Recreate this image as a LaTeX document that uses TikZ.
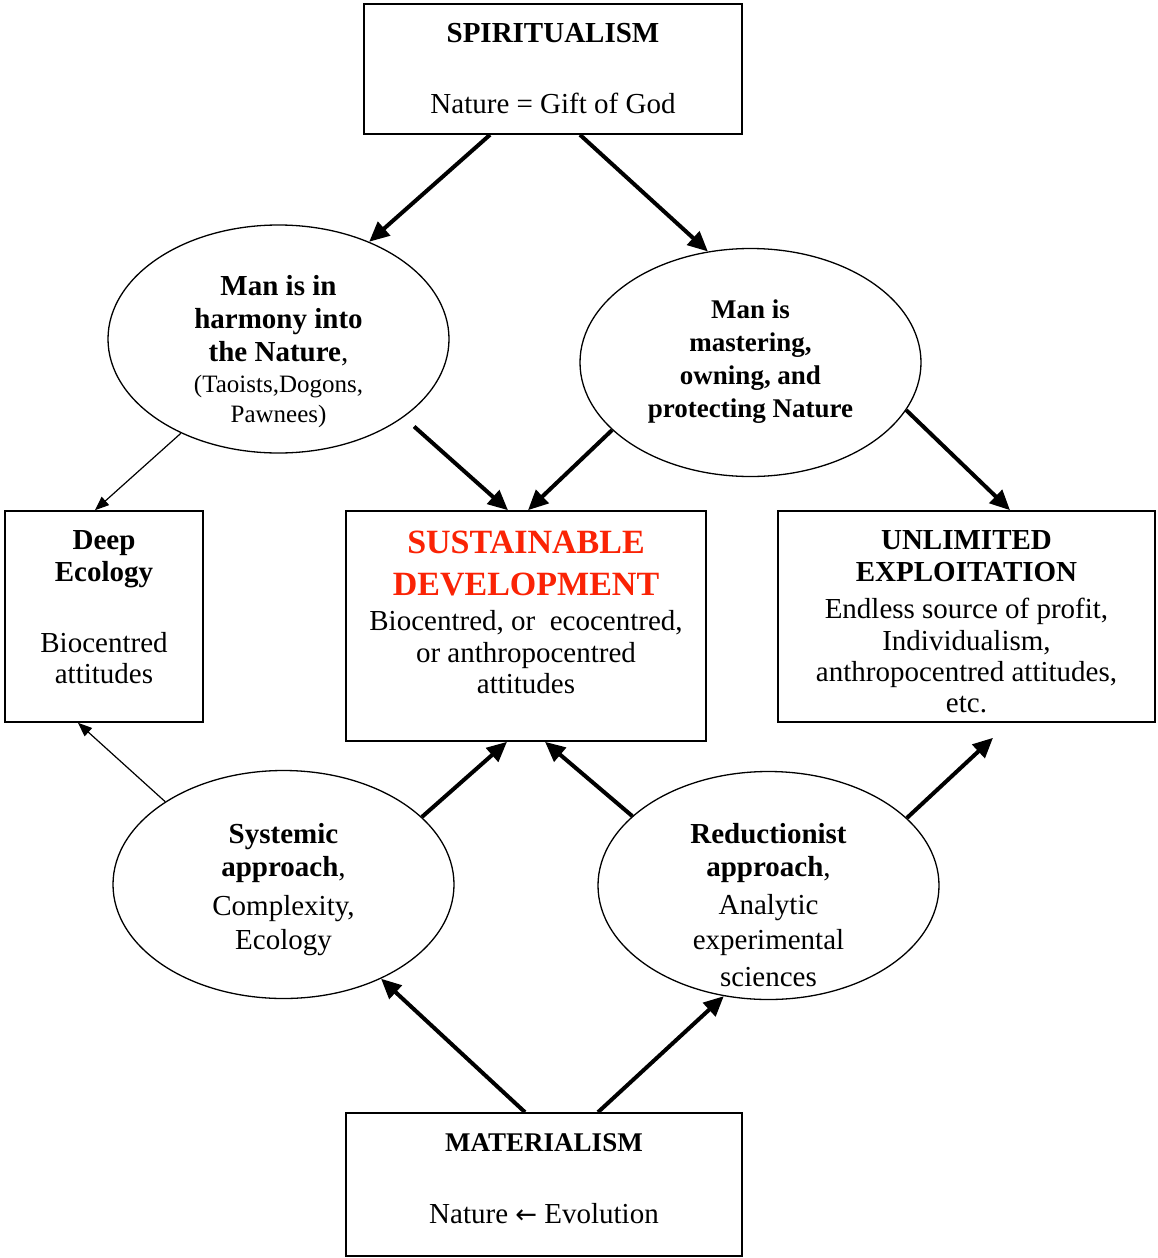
\documentclass[tikz,border=0pt]{standalone}
\usepackage{fontspec}
\setmainfont{Liberation Serif}
\newfontfamily\arrowfont{DejaVu Sans}
\usetikzlibrary{shapes.geometric,arrows.meta,positioning}
\definecolor{sdred}{RGB}{250,35,5}
\begin{document}
\begin{tikzpicture}[x=1pt,y=-1pt,
    box/.style={draw, line width=1.6pt, inner sep=0pt},
    oval/.style={draw, ellipse, line width=1.3pt, inner sep=0pt,
      minimum width=341pt, minimum height=228pt},
    txt/.style={align=center, inner sep=0pt, font=\fontsize{29}{33}\selectfont},
    big/.style={line width=4pt, -{Triangle[length=20pt,width=18pt]}},
    small/.style={line width=1.2pt, -{Triangle[length=14pt,width=11pt]}}]
  \useasboundingbox (0,0) rectangle (1157,1258);

  % shapes
  \node[box, minimum width=378pt, minimum height=130pt] (spirit) at (553,69) {};
  \node[oval] (harm) at (278.5,339) {};
  \node[oval] (mast) at (750.5,362.5) {};
  \node[box, minimum width=198pt, minimum height=211pt] (deep) at (104,616.5) {};
  \node[box, minimum width=360pt, minimum height=230pt] (sd) at (526,626) {};
  \node[box, minimum width=377pt, minimum height=211pt] (ue) at (966.5,616.5) {};
  \node[oval] (sys) at (283.5,884.5) {};
  \node[oval] (red) at (768.5,885.5) {};
  \node[box, minimum width=396pt, minimum height=143pt] (mat) at (544,1184.5) {};

  % texts
  \node[txt, below=19.5pt of spirit.north] (spirittxt)
    {\textbf{SPIRITUALISM}\\[38pt] Nature = Gift of God};
  \node[txt, below=51pt of harm.north] (harmtxt)
    {\textbf{Man is in}\\ \textbf{harmony into}\\ \textbf{the Nature},\\[-2pt]
     {\fontsize{25}{30}\selectfont (Taoists,Dogons,}\\[-3pt]
     {\fontsize{25}{30}\selectfont Pawnees)}};
  \node[txt, font=\fontsize{27}{33}\selectfont\bfseries, below=52pt of mast.north] (masttxt)
    {Man is\\ mastering,\\ owning, and\\ protecting Nature};
  \node[txt, font=\fontsize{29}{32}\selectfont, below=20pt of deep.north] (deeptxt)
    {\textbf{Deep}\\ \textbf{Ecology}\\[39pt] Biocentred\\[-1pt] attitudes};
  \node[txt, font=\fontsize{29}{32}\selectfont, below=21pt of sd.north] (sdtxt)
    {{\fontsize{34}{40}\selectfont\bfseries\color{sdred} SUSTAINABLE}\\[10pt]
     {\fontsize{34}{40}\selectfont\bfseries\color{sdred} DEVELOPMENT}\\[3pt]
     Biocentred, or\ \ ecocentred,\\ or anthropocentred\\[-1pt] attitudes};
  \node[txt, font=\fontsize{29}{32}\selectfont, below=20.5pt of ue.north] (uetxt)
    {\textbf{UNLIMITED}\\ \textbf{EXPLOITATION}\\[5pt] Endless source of profit,\\
     Individualism,\\[-1pt] anthropocentred attitudes,\\[-1pt] etc.};
  \node[txt, font=\fontsize{29}{35}\selectfont, below=53pt of sys.north] (systxt)
    {\textbf{Systemic}\\[-2pt] \textbf{approach},\\[4pt] Complexity,\\[-1pt] Ecology};
  \node[txt, font=\fontsize{29}{35.5}\selectfont, below=52pt of red.north] (redtxt)
    {\textbf{Reductionist}\\[-2pt] \textbf{approach},\\[2pt] Analytic\\ experimental\\[1pt] sciences};
  \node[txt, below=21pt of mat.north] (mattxt)
    {{\fontsize{27}{33}\selectfont\bfseries MATERIALISM}\\[39pt] Nature {\arrowfont\fontsize{26}{33}\selectfont ←} Evolution};

  % arrows
  \draw[big] ([xshift=-63pt]spirit.south) -- (harm.47);
  \draw[big] ([xshift=27pt]spirit.south) -- (mast.111);
  \draw[big, shorten <=14pt] (harm.-32) -- ([xshift=-18pt]sd.north);
  \draw[big] (mast.-154) -- ([xshift=2pt]sd.north);
  \draw[big] (mast.-17) -- ([xshift=43.5pt]ue.north);
  \draw[small] (harm.-136) -- ([xshift=-9pt]deep.north);
  \draw[small] (sys.145) -- ([xshift=-26pt]deep.south);
  \draw[big] (sys.26.5) -- ([xshift=-19pt]sd.south);
  \draw[big] (red.153) -- ([xshift=19pt]sd.south);
  \draw[big] (red.26.6) -- ([xshift=26.5pt,yshift=-15pt]ue.south);
  \draw[big] ([xshift=-19pt]mat.north) -- (sys.-44);
  \draw[big] ([xshift=54pt]mat.north) -- (red.-112);
\end{tikzpicture}
\end{document}
